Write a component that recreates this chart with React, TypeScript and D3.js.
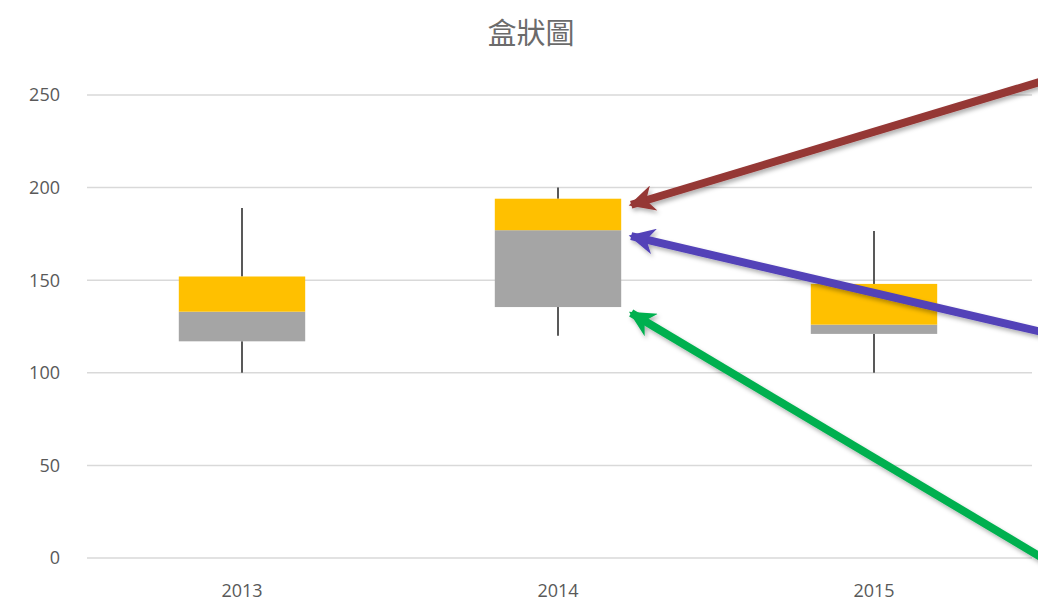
import React, { useEffect, useRef } from 'react';
import * as d3 from 'd3';

const years = ['2013', '2014', '2015'];
const whiskerMin = [100, 120, 100];
const q1 = [117, 135.5, 121];
const median = [133, 177, 126];
const q3 = [152, 194, 148];
const whiskerMax = [189, 200, 176.5];
const yTicks = [0, 50, 100, 150, 200, 250];

// annotation arrows: tip points at a box of 2014, start off the right edge (value space)
const arrowTargets = [194, 177, 135.5];
const arrowStartValues = [260, 120, -5];
const arrowColors = ['#953735', '#5342b8', '#00b050'];

const W = 1038;
const H = 612;

export default function App() {
  const ref = useRef<SVGSVGElement>(null);

  useEffect(() => {
    const svg = d3.select(ref.current);
    svg.selectAll('*').remove();

    const margin = { top: 95, right: 6, bottom: 54, left: 87 };
    const x = d3.scaleBand().domain(years).range([margin.left - 3, W - margin.right]).paddingInner(0.6).paddingOuter(0.3);
    const y = d3.scaleLinear().domain([0, 250]).range([H - margin.bottom, margin.top]);

    const defs = svg.append('defs');
    const f = defs.append('filter').attr('id', 'shadow').attr('x', '-20%').attr('y', '-20%').attr('width', '140%').attr('height', '140%');
    f.append('feDropShadow').attr('dx', 2).attr('dy', 3).attr('stdDeviation', 2).attr('flood-color', '#000').attr('flood-opacity', 0.3);

    arrowColors.forEach((c, i) => {
      defs.append('marker')
        .attr('id', 'head' + i)
        .attr('markerUnits', 'userSpaceOnUse')
        .attr('viewBox', '0 0 10 10')
        .attr('refX', 9).attr('refY', 5)
        .attr('markerWidth', 28).attr('markerHeight', 26)
        .attr('orient', 'auto')
        .append('path')
        .attr('d', 'M0,0 L10,5 L0,10 L3,5 Z')
        .attr('fill', c);
    });

    svg.append('rect').attr('width', W).attr('height', H).attr('fill', '#fff');

    // gridlines
    svg.append('g').selectAll('line').data(yTicks).join('line')
      .attr('x1', margin.left).attr('x2', W - margin.right)
      .attr('y1', d => y(d)).attr('y2', d => y(d))
      .attr('stroke', '#d9d9d9').attr('stroke-width', 1.5);

    svg.append('g').selectAll('text').data(yTicks).join('text')
      .attr('x', 60).attr('y', d => y(d)).attr('dy', '0.35em')
      .attr('text-anchor', 'end')
      .attr('font-family', 'Open Sans, Noto Sans, sans-serif').attr('font-size', 18)
      .attr('fill', '#595959').text(d => d);

    svg.append('g').selectAll('text').data(years).join('text')
      .attr('x', d => x(d)! + x.bandwidth() / 2).attr('y', 591).attr('dy', '0.35em')
      .attr('text-anchor', 'middle')
      .attr('font-family', 'Open Sans, Noto Sans, sans-serif').attr('font-size', 18)
      .attr('fill', '#595959').text(d => d);

    svg.append('text').attr('x', 531).attr('y', 34).attr('dy', '0.35em')
      .attr('text-anchor', 'middle')
      .attr('font-family', 'Noto Sans CJK TC, sans-serif').attr('font-size', 29)
      .attr('fill', '#6b6b6b').text('盒狀圖');

    const idx = years.map((_, i) => i);
    const cx = (i: number) => x(years[i])! + x.bandwidth() / 2;

    const g = svg.append('g');
    // whiskers
    g.selectAll('line.top').data(idx).join('line').attr('class', 'top')
      .attr('x1', cx).attr('x2', cx).attr('y1', i => y(whiskerMax[i])).attr('y2', i => y(q3[i]))
      .attr('stroke', '#595959').attr('stroke-width', 2);
    g.selectAll('line.bot').data(idx).join('line').attr('class', 'bot')
      .attr('x1', cx).attr('x2', cx).attr('y1', i => y(q1[i])).attr('y2', i => y(whiskerMin[i]))
      .attr('stroke', '#595959').attr('stroke-width', 2);
    // lower box (gray)
    g.selectAll('rect.low').data(idx).join('rect').attr('class', 'low')
      .attr('x', i => x(years[i])!).attr('width', x.bandwidth())
      .attr('y', i => y(median[i])).attr('height', i => y(q1[i]) - y(median[i]))
      .attr('fill', '#a5a5a5');
    // upper box (gold)
    g.selectAll('rect.high').data(idx).join('rect').attr('class', 'high')
      .attr('x', i => x(years[i])!).attr('width', x.bandwidth())
      .attr('y', i => y(q3[i])).attr('height', i => y(median[i]) - y(q3[i]))
      .attr('fill', '#ffc000');

    // arrows
    const tipX = x('2014')! + x.bandwidth() + 10;
    const a = svg.append('g').attr('filter', 'url(#shadow)');
    arrowColors.forEach((c, i) => {
      a.append('line')
        .attr('x1', W + 20).attr('y1', y(arrowStartValues[i]))
        .attr('x2', tipX).attr('y2', y(arrowTargets[i]) + 6)
        .attr('stroke', c).attr('stroke-width', 8)
        .attr('marker-end', `url(#head${i})`);
    });
  }, []);

  return (
    <svg ref={ref} width={W} height={H} style={{ position: 'absolute', left: 0, top: 0 }} />
  );
}
